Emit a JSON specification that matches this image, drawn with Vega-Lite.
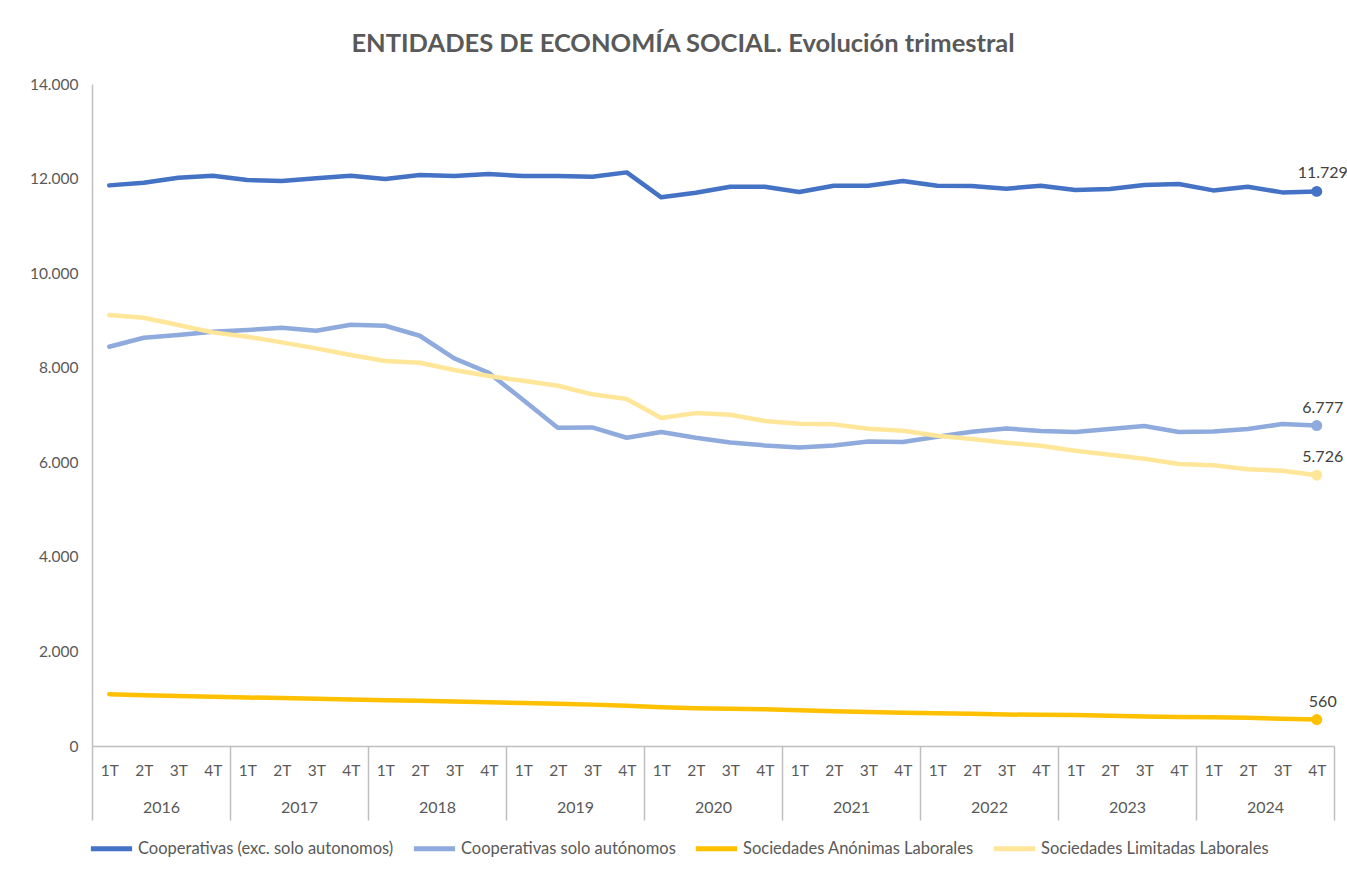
{
  "$schema": "https://vega.github.io/schema/vega-lite/v6.json",
  "autosize": {"type": "none"},
  "padding": {"left": 92, "top": 84, "right": 13, "bottom": 128},
  "width": 1242,
  "height": 662,
  "background": "white",
  "config": {
    "locale": {"number": {"decimal": ",", "thousands": ".", "grouping": [3], "currency": ["", " €"]}},
    "font": "Lato",
    "view": {"stroke": null}
  },
  "title": {"text": "ENTIDADES DE ECONOMÍA SOCIAL. Evolución trimestral", "fontSize": 25.5, "fontWeight": "bold", "color": "#595959", "font": "Lato", "offset": 20, "dx": -30},
  "data": {"values": [
    {"i":0,"serie":"Cooperativas (exc. solo autonomos)","v":11856},{"i":1,"serie":"Cooperativas (exc. solo autonomos)","v":11912},{"i":2,"serie":"Cooperativas (exc. solo autonomos)","v":12018},{"i":3,"serie":"Cooperativas (exc. solo autonomos)","v":12060},
    {"i":4,"serie":"Cooperativas (exc. solo autonomos)","v":11969},{"i":5,"serie":"Cooperativas (exc. solo autonomos)","v":11948},{"i":6,"serie":"Cooperativas (exc. solo autonomos)","v":12005},{"i":7,"serie":"Cooperativas (exc. solo autonomos)","v":12060},
    {"i":8,"serie":"Cooperativas (exc. solo autonomos)","v":11990},{"i":9,"serie":"Cooperativas (exc. solo autonomos)","v":12074},{"i":10,"serie":"Cooperativas (exc. solo autonomos)","v":12053},{"i":11,"serie":"Cooperativas (exc. solo autonomos)","v":12096},
    {"i":12,"serie":"Cooperativas (exc. solo autonomos)","v":12053},{"i":13,"serie":"Cooperativas (exc. solo autonomos)","v":12053},{"i":14,"serie":"Cooperativas (exc. solo autonomos)","v":12039},{"i":15,"serie":"Cooperativas (exc. solo autonomos)","v":12131},
    {"i":16,"serie":"Cooperativas (exc. solo autonomos)","v":11603},{"i":17,"serie":"Cooperativas (exc. solo autonomos)","v":11701},{"i":18,"serie":"Cooperativas (exc. solo autonomos)","v":11828},{"i":19,"serie":"Cooperativas (exc. solo autonomos)","v":11828},
    {"i":20,"serie":"Cooperativas (exc. solo autonomos)","v":11715},{"i":21,"serie":"Cooperativas (exc. solo autonomos)","v":11849},{"i":22,"serie":"Cooperativas (exc. solo autonomos)","v":11849},{"i":23,"serie":"Cooperativas (exc. solo autonomos)","v":11948},
    {"i":24,"serie":"Cooperativas (exc. solo autonomos)","v":11849},{"i":25,"serie":"Cooperativas (exc. solo autonomos)","v":11842},{"i":26,"serie":"Cooperativas (exc. solo autonomos)","v":11786},{"i":27,"serie":"Cooperativas (exc. solo autonomos)","v":11849},
    {"i":28,"serie":"Cooperativas (exc. solo autonomos)","v":11757},{"i":29,"serie":"Cooperativas (exc. solo autonomos)","v":11778},{"i":30,"serie":"Cooperativas (exc. solo autonomos)","v":11863},{"i":31,"serie":"Cooperativas (exc. solo autonomos)","v":11884},
    {"i":32,"serie":"Cooperativas (exc. solo autonomos)","v":11750},{"i":33,"serie":"Cooperativas (exc. solo autonomos)","v":11828},{"i":34,"serie":"Cooperativas (exc. solo autonomos)","v":11708},{"i":35,"serie":"Cooperativas (exc. solo autonomos)","v":11729},

    {"i":0,"serie":"Cooperativas solo autónomos","v":8444},{"i":1,"serie":"Cooperativas solo autónomos","v":8634},{"i":2,"serie":"Cooperativas solo autónomos","v":8691},{"i":3,"serie":"Cooperativas solo autónomos","v":8761},
    {"i":4,"serie":"Cooperativas solo autónomos","v":8797},{"i":5,"serie":"Cooperativas solo autónomos","v":8846},{"i":6,"serie":"Cooperativas solo autónomos","v":8782},{"i":7,"serie":"Cooperativas solo autónomos","v":8909},
    {"i":8,"serie":"Cooperativas solo autónomos","v":8888},{"i":9,"serie":"Cooperativas solo autónomos","v":8676},{"i":10,"serie":"Cooperativas solo autónomos","v":8197},{"i":11,"serie":"Cooperativas solo autónomos","v":7894},
    {"i":12,"serie":"Cooperativas solo autónomos","v":7317},{"i":13,"serie":"Cooperativas solo autónomos","v":6730},{"i":14,"serie":"Cooperativas solo autónomos","v":6738},{"i":15,"serie":"Cooperativas solo autónomos","v":6519},
    {"i":16,"serie":"Cooperativas solo autónomos","v":6640},{"i":17,"serie":"Cooperativas solo autónomos","v":6520},{"i":18,"serie":"Cooperativas solo autónomos","v":6420},{"i":19,"serie":"Cooperativas solo autónomos","v":6357},
    {"i":20,"serie":"Cooperativas solo autónomos","v":6314},{"i":21,"serie":"Cooperativas solo autónomos","v":6357},{"i":22,"serie":"Cooperativas solo autónomos","v":6441},{"i":23,"serie":"Cooperativas solo autónomos","v":6427},
    {"i":24,"serie":"Cooperativas solo autónomos","v":6540},{"i":25,"serie":"Cooperativas solo autónomos","v":6645},{"i":26,"serie":"Cooperativas solo autónomos","v":6716},{"i":27,"serie":"Cooperativas solo autónomos","v":6660},
    {"i":28,"serie":"Cooperativas solo autónomos","v":6639},{"i":29,"serie":"Cooperativas solo autónomos","v":6702},{"i":30,"serie":"Cooperativas solo autónomos","v":6766},{"i":31,"serie":"Cooperativas solo autónomos","v":6639},
    {"i":32,"serie":"Cooperativas solo autónomos","v":6653},{"i":33,"serie":"Cooperativas solo autónomos","v":6702},{"i":34,"serie":"Cooperativas solo autónomos","v":6808},{"i":35,"serie":"Cooperativas solo autónomos","v":6777},

    {"i":0,"serie":"Sociedades Anónimas Laborales","v":1093},{"i":1,"serie":"Sociedades Anónimas Laborales","v":1075},{"i":2,"serie":"Sociedades Anónimas Laborales","v":1058},{"i":3,"serie":"Sociedades Anónimas Laborales","v":1040},
    {"i":4,"serie":"Sociedades Anónimas Laborales","v":1025},{"i":5,"serie":"Sociedades Anónimas Laborales","v":1015},{"i":6,"serie":"Sociedades Anónimas Laborales","v":1000},{"i":7,"serie":"Sociedades Anónimas Laborales","v":985},
    {"i":8,"serie":"Sociedades Anónimas Laborales","v":970},{"i":9,"serie":"Sociedades Anónimas Laborales","v":955},{"i":10,"serie":"Sociedades Anónimas Laborales","v":940},{"i":11,"serie":"Sociedades Anónimas Laborales","v":925},
    {"i":12,"serie":"Sociedades Anónimas Laborales","v":910},{"i":13,"serie":"Sociedades Anónimas Laborales","v":895},{"i":14,"serie":"Sociedades Anónimas Laborales","v":875},{"i":15,"serie":"Sociedades Anónimas Laborales","v":850},
    {"i":16,"serie":"Sociedades Anónimas Laborales","v":820},{"i":17,"serie":"Sociedades Anónimas Laborales","v":800},{"i":18,"serie":"Sociedades Anónimas Laborales","v":790},{"i":19,"serie":"Sociedades Anónimas Laborales","v":775},
    {"i":20,"serie":"Sociedades Anónimas Laborales","v":755},{"i":21,"serie":"Sociedades Anónimas Laborales","v":735},{"i":22,"serie":"Sociedades Anónimas Laborales","v":720},{"i":23,"serie":"Sociedades Anónimas Laborales","v":705},
    {"i":24,"serie":"Sociedades Anónimas Laborales","v":690},{"i":25,"serie":"Sociedades Anónimas Laborales","v":680},{"i":26,"serie":"Sociedades Anónimas Laborales","v":665},{"i":27,"serie":"Sociedades Anónimas Laborales","v":660},
    {"i":28,"serie":"Sociedades Anónimas Laborales","v":655},{"i":29,"serie":"Sociedades Anónimas Laborales","v":640},{"i":30,"serie":"Sociedades Anónimas Laborales","v":625},{"i":31,"serie":"Sociedades Anónimas Laborales","v":615},
    {"i":32,"serie":"Sociedades Anónimas Laborales","v":610},{"i":33,"serie":"Sociedades Anónimas Laborales","v":595},{"i":34,"serie":"Sociedades Anónimas Laborales","v":575},{"i":35,"serie":"Sociedades Anónimas Laborales","v":560},

    {"i":0,"serie":"Sociedades Limitadas Laborales","v":9114},{"i":1,"serie":"Sociedades Limitadas Laborales","v":9057},{"i":2,"serie":"Sociedades Limitadas Laborales","v":8902},{"i":3,"serie":"Sociedades Limitadas Laborales","v":8747},
    {"i":4,"serie":"Sociedades Limitadas Laborales","v":8655},{"i":5,"serie":"Sociedades Limitadas Laborales","v":8536},{"i":6,"serie":"Sociedades Limitadas Laborales","v":8409},{"i":7,"serie":"Sociedades Limitadas Laborales","v":8268},
    {"i":8,"serie":"Sociedades Limitadas Laborales","v":8141},{"i":9,"serie":"Sociedades Limitadas Laborales","v":8105},{"i":10,"serie":"Sociedades Limitadas Laborales","v":7951},{"i":11,"serie":"Sociedades Limitadas Laborales","v":7824},
    {"i":12,"serie":"Sociedades Limitadas Laborales","v":7725},{"i":13,"serie":"Sociedades Limitadas Laborales","v":7619},{"i":14,"serie":"Sociedades Limitadas Laborales","v":7437},{"i":15,"serie":"Sociedades Limitadas Laborales","v":7338},
    {"i":16,"serie":"Sociedades Limitadas Laborales","v":6935},{"i":17,"serie":"Sociedades Limitadas Laborales","v":7040},{"i":18,"serie":"Sociedades Limitadas Laborales","v":7006},{"i":19,"serie":"Sociedades Limitadas Laborales","v":6873},
    {"i":20,"serie":"Sociedades Limitadas Laborales","v":6815},{"i":21,"serie":"Sociedades Limitadas Laborales","v":6802},{"i":22,"serie":"Sociedades Limitadas Laborales","v":6710},{"i":23,"serie":"Sociedades Limitadas Laborales","v":6667},
    {"i":24,"serie":"Sociedades Limitadas Laborales","v":6561},{"i":25,"serie":"Sociedades Limitadas Laborales","v":6491},{"i":26,"serie":"Sociedades Limitadas Laborales","v":6414},{"i":27,"serie":"Sociedades Limitadas Laborales","v":6350},
    {"i":28,"serie":"Sociedades Limitadas Laborales","v":6244},{"i":29,"serie":"Sociedades Limitadas Laborales","v":6160},{"i":30,"serie":"Sociedades Limitadas Laborales","v":6075},{"i":31,"serie":"Sociedades Limitadas Laborales","v":5963},
    {"i":32,"serie":"Sociedades Limitadas Laborales","v":5935},{"i":33,"serie":"Sociedades Limitadas Laborales","v":5851},{"i":34,"serie":"Sociedades Limitadas Laborales","v":5822},{"i":35,"serie":"Sociedades Limitadas Laborales","v":5726}
  ]},
  "resolve": {"axis": {"x": "independent"}},
  "layer": [
    {
      "mark": {"type": "line", "strokeWidth": 4.5, "strokeJoin": "round", "strokeCap": "round"},
      "encoding": {
        "x": {"field": "i", "type": "quantitative", "title": null,
          "scale": {"domain": [-0.5, 35.5], "nice": false, "zero": false},
          "axis": {"orient": "bottom", "values": [0,1,2,3,4,5,6,7,8,9,10,11,12,13,14,15,16,17,18,19,20,21,22,23,24,25,26,27,28,29,30,31,32,33,34,35],
            "labelExpr": "['1T','2T','3T','4T'][datum.value % 4]", "ticks": false, "grid": false,
            "domain": true, "domainColor": "#bfbfbf", "domainWidth": 1.5, "labelPadding": 17,
            "labelFontSize": 15.5, "labelColor": "#595959", "labelFont": "Lato", "labelFlush": false, "labelOverlap": false}},
        "y": {"field": "v", "type": "quantitative", "title": null,
          "scale": {"domain": [0, 14000], "nice": false},
          "axis": {"values": [0,2000,4000,6000,8000,10000,12000,14000], "format": ",d", "grid": false, "ticks": false,
            "domain": true, "domainColor": "#bfbfbf", "domainWidth": 1.5, "labelPadding": 14,
            "labelFontSize": 15.5, "labelColor": "#595959", "labelFont": "Lato"}},
        "color": {"field": "serie", "type": "nominal",
          "scale": {"domain": ["Cooperativas (exc. solo autonomos)", "Cooperativas solo autónomos", "Sociedades Anónimas Laborales", "Sociedades Limitadas Laborales"],
            "range": ["#4472C4", "#8FAADC", "#FFC000", "#FFE699"]},
          "legend": {"title": null, "orient": "none", "legendX": -4, "legendY": 741, "direction": "horizontal", "columns": 4,
            "symbolType": "stroke", "symbolStrokeWidth": 5, "symbolSize": 1700, "columnPadding": 9,
            "labelFontSize": 16.5, "labelColor": "#595959", "labelFont": "Lato", "labelOffset": 3, "labelLimit": 400}}
      }
    },
    {
      "transform": [{"filter": "datum.i == 35"}],
      "mark": {"type": "point", "filled": true, "opacity": 1, "size": 120},
      "encoding": {
        "x": {"field": "i", "type": "quantitative", "title": null,
          "axis": {"orient": "bottom", "values": [-0.5,3.5,7.5,11.5,15.5,19.5,23.5,27.5,31.5,35.5],
            "labelExpr": "datum.value > 35 ? '' : '' + (2016 + (datum.value + 0.5) / 4)",
            "ticks": true, "tickSize": 74, "tickColor": "#bfbfbf", "tickWidth": 1.5, "domain": false, "grid": false,
            "labelOffset": 69, "labelPadding": -21, "labelFontSize": 16, "labelColor": "#595959", "labelFont": "Lato",
            "labelFlush": false, "labelOverlap": false, "labelAlign": "center"}},
        "y": {"field": "v", "type": "quantitative"},
        "color": {"field": "serie", "type": "nominal"}
      }
    },
    {
      "transform": [{"filter": "datum.i == 35"}],
      "mark": {"type": "text", "fontSize": 16, "font": "Lato", "color": "#404040", "align": "center", "baseline": "bottom", "dx": 6, "dy": -10},
      "encoding": {
        "x": {"field": "i", "type": "quantitative", "axis": null},
        "y": {"field": "v", "type": "quantitative"},
        "text": {"field": "v", "type": "quantitative", "format": ",d"}
      }
    }
  ]
}
